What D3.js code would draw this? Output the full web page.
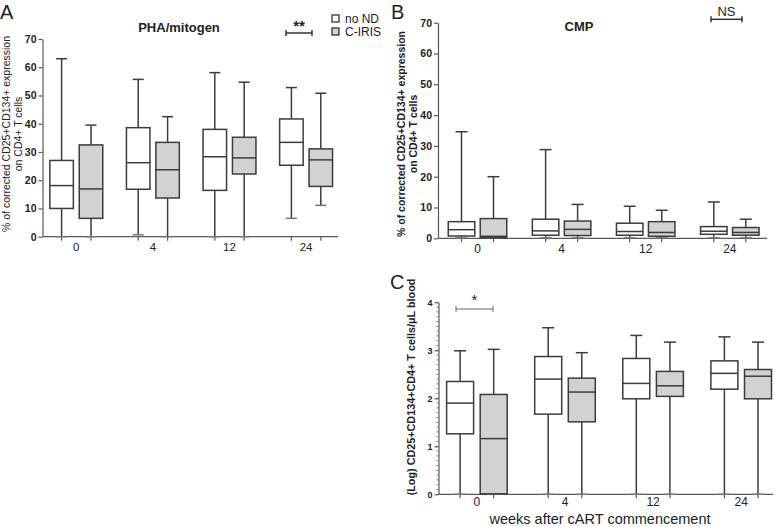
<!DOCTYPE html>
<html><head><meta charset="utf-8">
<script src="https://cdn.jsdelivr.net/npm/d3@7"></script>
<style>body{margin:0;background:#fff} svg{display:block} text{font-family:Arial, "Liberation Sans", sans-serif}</style>
</head><body><svg id="c" width="780" height="527"></svg>
<script>
const weeks = ["0","4","12","24"];
const groups = ["no ND","C-IRIS"];
// five-number summaries per week: [min, q1, median, q3, max]
const phaNoND  = [[0,10,18.1,27,63],[0.7,16.8,26.2,38.6,55.7],[0,16.4,28.3,38,58.1],[6.5,25.3,33.4,41.7,52.8]];
const phaCIRIS = [[0,6.5,16.9,32.5,39.5],[0,13.7,23.7,33.4,42.5],[0,22.2,27.9,35.2,54.7],[11.1,17.8,27.2,31.1,50.8]];
const cmpNoND  = [[0.15,0.75,2.8,5.4,34.6],[0.15,1.0,2.4,6.2,28.8],[0.15,1.0,2.2,4.9,10.4],[0.15,1.3,2.3,3.8,11.8]];
const cmpCIRIS = [[0.1,0.2,0.65,6.4,20],[0.15,0.9,2.9,5.6,11],[0.15,0.65,1.9,5.4,9.1],[0.15,1.0,1.9,3.5,6.2]];
const logNoND  = [[0,1.26,1.9,2.35,2.99],[0,1.67,2.4,2.87,3.47],[0,1.99,2.31,2.83,3.31],[0,2.19,2.52,2.78,3.28]];
const logCIRIS = [[0,0.01,1.16,2.08,3.02],[0,1.51,2.13,2.42,2.95],[0,2.04,2.26,2.56,3.17],[0,1.99,2.46,2.6,3.17]];
const yTicksPct = [0,10,20,30,40,50,60,70];
const yTicksLog = [0,1,2,3,4];
const fills = {"no ND":"#ffffff","C-IRIS":"#d2d2d2"};

const svg = d3.select("#c");
const STROKE = "#3c3c3c", AXIS = "#5a5a5a";

function panel(cfg){
  const g = svg.append("g");
  const x = d3.scaleBand().domain(weeks).range(cfg.xr);
  const off = d3.scalePoint().domain(groups).range([-cfg.off, cfg.off]);
  const y = d3.scaleLinear().domain(cfg.yd).range(cfg.yr);
  const cx = (w,s) => x(w) + x.bandwidth()/2 + off(s);

  // y axis
  const ya = g.append("g").attr("transform",`translate(${cfg.ax},0)`)
    .call(d3.axisLeft(y).tickValues(cfg.yt).tickFormat(d3.format("d")).tickSize(4).tickSizeOuter(0).tickPadding(2));
  ya.select(".domain").attr("stroke",AXIS).attr("stroke-width",1.2);
  ya.selectAll(".tick line").attr("stroke",AXIS).attr("stroke-width",1.2);
  ya.selectAll(".tick text").attr("fill","#222").style("font-size",cfg.ytFont+"px").style("font-weight","bold");
  if(cfg.minor){
    g.append("g").selectAll("line").data(cfg.minor).join("line")
      .attr("x1",cfg.ax-2).attr("x2",cfg.ax).attr("y1",d=>y(d)).attr("y2",d=>y(d))
      .attr("stroke",AXIS).attr("stroke-width",0.8);
  }
  // x axis
  const y0 = y(cfg.yd[0]);
  g.append("line").attr("x1",cfg.ax).attr("x2",cfg.xEnd).attr("y1",y0).attr("y2",y0)
    .attr("stroke",AXIS).attr("stroke-width",1.2);
  const xa = g.append("g").attr("transform",`translate(0,${y0})`)
    .call(d3.axisBottom(x).tickSize(0).tickPadding(cfg.xPad));
  xa.select(".domain").remove();
  xa.selectAll(".tick text").attr("fill","#222").style("font-size",cfg.xtFont+"px");
  const pos = [];
  weeks.forEach(w=>groups.forEach(s=>pos.push(cx(w,s))));
  g.append("g").selectAll("line").data(pos).join("line")
    .attr("x1",d=>d).attr("x2",d=>d).attr("y1",y0).attr("y2",y0+4)
    .attr("stroke",AXIS).attr("stroke-width",1.2);

  // boxes
  const bw = cfg.bw, cw = cfg.cw;
  groups.forEach((s,si)=>{
    const data = cfg.data[si];
    data.forEach((d,i)=>{
      const c = cx(weeks[i],s);
      const [mn,q1,md,q3,mx] = d;
      const b = g.append("g").attr("stroke",STROKE).attr("stroke-width",1.5).attr("fill","none");
      b.append("line").attr("x1",c).attr("x2",c).attr("y1",y(mx)).attr("y2",y(q3));
      b.append("line").attr("x1",c).attr("x2",c).attr("y1",y(q1)).attr("y2",y(mn));
      b.append("line").attr("x1",c-cw/2).attr("x2",c+cw/2).attr("y1",y(mx)).attr("y2",y(mx));
      b.append("line").attr("x1",c-cw/2).attr("x2",c+cw/2).attr("y1",y(mn)).attr("y2",y(mn)).attr("stroke","#777");
      b.append("rect").attr("x",c-bw/2).attr("width",bw).attr("y",y(q3)).attr("height",y(q1)-y(q3))
        .attr("fill",fills[s]);
      b.append("line").attr("x1",c-bw/2).attr("x2",c+bw/2).attr("y1",y(md)).attr("y2",y(md));
    });
  });

  // y title
  const t = g.append("text").attr("transform",`translate(${cfg.tx},${cfg.ty}) rotate(-90)`)
    .attr("text-anchor","middle").attr("fill","#222").style("font-size",cfg.tFont+"px")
    .style("font-weight",cfg.tBold?"bold":"normal");
  cfg.title.forEach((line,i)=>t.append("tspan").attr("x",0).attr("dy",i?cfg.tLine:0).text(line));

  // significance bracket
  const br = cfg.br;
  const bg = g.append("g").attr("stroke",br.col).attr("stroke-width",br.sw);
  bg.append("line").attr("x1",br.x1).attr("x2",br.x2).attr("y1",br.y).attr("y2",br.y);
  bg.append("line").attr("x1",br.x1).attr("x2",br.x1).attr("y1",br.y-3).attr("y2",br.y+3);
  bg.append("line").attr("x1",br.x2).attr("x2",br.x2).attr("y1",br.y-3).attr("y2",br.y+3);
  g.append("text").attr("x",(br.x1+br.x2)/2).attr("y",br.ty).attr("text-anchor","middle")
    .attr("fill","#222").style("font-size",br.font+"px").style("font-weight",br.bold?"bold":"normal").text(br.label);
  return g;
}

panel({xr:[38,344.4], off:14.7, bw:23.5, cw:11, yd:[0,70], yr:[236.7,39], yt:yTicksPct, ax:42.5, xEnd:338,
  ytFont:10.5, xtFont:11.5, xPad:6, data:[phaNoND,phaCIRIS],
  title:["% of corrected CD25+CD134+ expression","on CD4+ T cells"], tx:10, ty:134, tFont:10.5, tBold:false, tLine:11.5,
  br:{x1:286,x2:312,y:33,sw:1.5,col:"#333",label:"**",ty:31,font:15,bold:true}});

panel({xr:[435.45,771.85], off:16, bw:26.5, cw:12, yd:[0,70], yr:[238.3,22.7], yt:yTicksPct, ax:438, xEnd:767,
  ytFont:10.5, xtFont:12, xPad:6, data:[cmpNoND,cmpCIRIS],
  title:["% of corrected CD25+CD134+ expression","on CD4+ T cells"], tx:405, ty:134, tFont:10.5, tBold:true, tLine:12,
  br:{x1:711,x2:742,y:19.3,sw:1.5,col:"#333",label:"NS",ty:16,font:13,bold:false}});

panel({xr:[432.85,785.25], off:16.8, bw:27, cw:12, yd:[0,4], yr:[494.3,302.3], yt:yTicksLog, ax:438.5, xEnd:773,
  minor:d3.range(0,4.001,0.1), ytFont:9, xtFont:12, xPad:3, data:[logNoND,logCIRIS],
  title:["(Log) CD25+CD134+CD4+ T cells/\u03bcL blood"], tx:414.5, ty:387, tFont:10.8, tBold:true, tLine:12,
  br:{x1:456,x2:493,y:309,sw:1,col:"#666",label:"*",ty:305,font:15,bold:false}});

// panel letters and titles
svg.append("text").attr("x",0).attr("y",19).style("font-size","20px").attr("fill","#222").text("A");
svg.append("text").attr("x",391).attr("y",19).style("font-size","20px").attr("fill","#222").text("B");
svg.append("text").attr("x",390).attr("y",289).style("font-size","20px").attr("fill","#222").text("C");
svg.append("text").attr("x",179).attr("y",32).attr("text-anchor","middle").style("font-size","13px").style("font-weight","bold").attr("fill","#222").text("PHA/mitogen");
svg.append("text").attr("x",579).attr("y",31).attr("text-anchor","middle").style("font-size","13px").style("font-weight","bold").attr("fill","#222").text("CMP");
svg.append("text").attr("x",600).attr("y",524).attr("text-anchor","middle").style("font-size","14.5px").attr("fill","#222").text("weeks after cART commencement");

// legend
const lg = svg.append("g").attr("transform","translate(332,15)");
groups.forEach((s,i)=>{
  lg.append("rect").attr("x",0).attr("y",i*13).attr("width",7).attr("height",7)
    .attr("fill",fills[s]).attr("stroke","#333").attr("stroke-width",1.3);
  lg.append("text").attr("x",13).attr("y",i*13+8).style("font-size","12px").attr("fill","#222").text(s);
});
</script></body></html>
